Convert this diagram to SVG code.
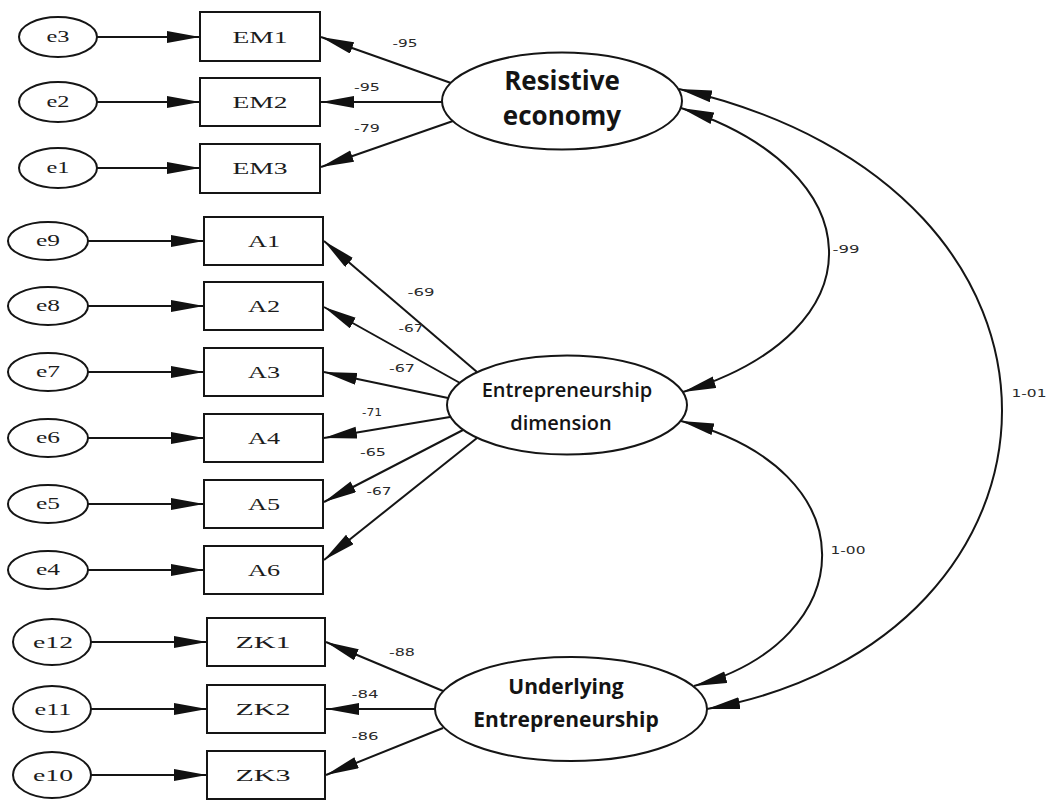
<svg xmlns="http://www.w3.org/2000/svg" width="1048" height="800" viewBox="0 0 1048 800">
  <style>
    .shape { fill: #ffffff; stroke: #151515; stroke-width: 2; }
    .link { fill: none; stroke: #151515; stroke-width: 2; }
    .obs { font-family: "Liberation Serif", "DejaVu Serif", serif; font-size: 16px; fill: #1c1c1c; text-anchor: middle; }
    .err { font-family: "Liberation Serif", "DejaVu Serif", serif; font-size: 16px; fill: #1c1c1c; text-anchor: middle; }
    .lat { font-family: "Open Sans", "Liberation Sans", sans-serif; font-weight: 700; fill: #141414; text-anchor: middle; }
    .semi { font-weight: 600; }
    .coef { font-family: "DejaVu Sans", "Liberation Sans", sans-serif; font-size: 11px; fill: #2a2a2a; text-anchor: middle; }
  </style>
  <defs>
    <marker id="head" markerUnits="userSpaceOnUse" markerWidth="34" markerHeight="13" refX="33" refY="6" orient="auto-start-reverse">
      <path d="M0,0 L33,6 L0,12 Z" fill="#111111"/>
    </marker>
  </defs>

  <rect x="0" y="0" width="1048" height="800" fill="#ffffff"/>

  <!-- connectors -->
  <g id="connectors" class="link" marker-end="url(#head)">
    <!-- error terms to indicators -->
    <line x1="97" y1="37" x2="200" y2="37"/>
    <line x1="97" y1="102" x2="200" y2="102"/>
    <line x1="97" y1="168" x2="200" y2="168"/>
    <line x1="88" y1="241" x2="204" y2="241"/>
    <line x1="88" y1="306" x2="204" y2="306"/>
    <line x1="88" y1="372" x2="204" y2="372"/>
    <line x1="88" y1="438" x2="204" y2="438"/>
    <line x1="88" y1="504" x2="204" y2="504"/>
    <line x1="88" y1="570" x2="204" y2="570"/>
    <line x1="91" y1="642" x2="207" y2="642"/>
    <line x1="91" y1="709" x2="207" y2="709"/>
    <line x1="91" y1="775" x2="207" y2="775"/>
    <!-- loadings: Resistive economy -->
    <line x1="451" y1="83" x2="321" y2="37"/>
    <line x1="442" y1="102" x2="321" y2="102"/>
    <line x1="453" y1="121" x2="321" y2="167"/>
    <!-- loadings: Entrepreneurship dimension -->
    <line x1="477" y1="372" x2="324" y2="241"/>
    <line x1="460" y1="383" x2="324" y2="307"/>
    <line x1="448" y1="398" x2="324" y2="372"/>
    <line x1="450" y1="417" x2="324" y2="438"/>
    <line x1="463" y1="430" x2="324" y2="502"/>
    <line x1="477" y1="438" x2="324" y2="560"/>
    <!-- loadings: Underlying Entrepreneurship -->
    <line x1="443" y1="691" x2="326" y2="642"/>
    <line x1="435" y1="709" x2="326" y2="709"/>
    <line x1="443" y1="728" x2="326" y2="775"/>
    <!-- covariances -->
    <path d="M681,108 C872,170 884,330 683,392" marker-start="url(#head)"/>
    <path d="M681,421 C872,470 862,640 694,686" marker-start="url(#head)"/>
    <path d="M679,89 C1120,190 1090,640 707,709" marker-start="url(#head)"/>
  </g>

  <!-- coefficient labels -->
  <g id="coefficients" class="coef">
    <text x="405" y="47" textLength="25" lengthAdjust="spacingAndGlyphs">-95</text>
    <text x="367" y="91" textLength="26" lengthAdjust="spacingAndGlyphs">-95</text>
    <text x="367" y="132" textLength="26" lengthAdjust="spacingAndGlyphs">-79</text>
    <text x="421" y="296" textLength="27" lengthAdjust="spacingAndGlyphs">-69</text>
    <text x="411" y="332" textLength="25" lengthAdjust="spacingAndGlyphs">-67</text>
    <text x="402" y="372" textLength="26" lengthAdjust="spacingAndGlyphs">-67</text>
    <text x="372" y="416" textLength="20" lengthAdjust="spacingAndGlyphs">-71</text>
    <text x="373" y="456" textLength="26" lengthAdjust="spacingAndGlyphs">-65</text>
    <text x="379" y="495" textLength="25" lengthAdjust="spacingAndGlyphs">-67</text>
    <text x="402" y="656" textLength="26" lengthAdjust="spacingAndGlyphs">-88</text>
    <text x="365" y="698" textLength="27" lengthAdjust="spacingAndGlyphs">-84</text>
    <text x="365" y="740" textLength="27" lengthAdjust="spacingAndGlyphs">-86</text>
    <text x="846" y="253" textLength="27" lengthAdjust="spacingAndGlyphs">-99</text>
    <text x="848" y="554" textLength="35" lengthAdjust="spacingAndGlyphs">1-00</text>
    <text x="1029" y="397" textLength="35" lengthAdjust="spacingAndGlyphs">1-01</text>
  </g>

  <!-- error terms -->
  <g id="e3"><ellipse class="shape" cx="58" cy="37" rx="39" ry="20"/><text class="err" x="58" y="42" textLength="23" lengthAdjust="spacingAndGlyphs">e3</text></g>
  <g id="e2"><ellipse class="shape" cx="58" cy="102" rx="39" ry="20"/><text class="err" x="58" y="107" textLength="23" lengthAdjust="spacingAndGlyphs">e2</text></g>
  <g id="e1"><ellipse class="shape" cx="58" cy="168" rx="39" ry="20"/><text class="err" x="58" y="173" textLength="23" lengthAdjust="spacingAndGlyphs">e1</text></g>
  <g id="e9"><ellipse class="shape" cx="48" cy="241" rx="40" ry="19"/><text class="err" x="48" y="246" textLength="24" lengthAdjust="spacingAndGlyphs">e9</text></g>
  <g id="e8"><ellipse class="shape" cx="48" cy="306" rx="40" ry="19"/><text class="err" x="48" y="311" textLength="24" lengthAdjust="spacingAndGlyphs">e8</text></g>
  <g id="e7"><ellipse class="shape" cx="48" cy="372" rx="40" ry="19"/><text class="err" x="48" y="377" textLength="24" lengthAdjust="spacingAndGlyphs">e7</text></g>
  <g id="e6"><ellipse class="shape" cx="48" cy="438" rx="40" ry="19"/><text class="err" x="48" y="443" textLength="24" lengthAdjust="spacingAndGlyphs">e6</text></g>
  <g id="e5"><ellipse class="shape" cx="48" cy="504" rx="40" ry="19"/><text class="err" x="48" y="509" textLength="24" lengthAdjust="spacingAndGlyphs">e5</text></g>
  <g id="e4"><ellipse class="shape" cx="48" cy="570" rx="40" ry="19"/><text class="err" x="48" y="575" textLength="24" lengthAdjust="spacingAndGlyphs">e4</text></g>
  <g id="e12"><ellipse class="shape" cx="52" cy="642" rx="39" ry="23"/><text class="err" x="53" y="648" textLength="40" lengthAdjust="spacingAndGlyphs">e12</text></g>
  <g id="e11"><ellipse class="shape" cx="52" cy="709" rx="39" ry="23"/><text class="err" x="53" y="715" textLength="37" lengthAdjust="spacingAndGlyphs">e11</text></g>
  <g id="e10"><ellipse class="shape" cx="52" cy="775" rx="39" ry="23"/><text class="err" x="53" y="781" textLength="40" lengthAdjust="spacingAndGlyphs">e10</text></g>

  <!-- observed indicators -->
  <g id="EM1"><rect class="shape" x="200" y="12" width="120" height="49"/><text class="obs" x="260" y="43" textLength="55" lengthAdjust="spacingAndGlyphs">EM1</text></g>
  <g id="EM2"><rect class="shape" x="200" y="78" width="120" height="48"/><text class="obs" x="260" y="108" textLength="55" lengthAdjust="spacingAndGlyphs">EM2</text></g>
  <g id="EM3"><rect class="shape" x="200" y="144" width="120" height="49"/><text class="obs" x="260" y="174" textLength="55" lengthAdjust="spacingAndGlyphs">EM3</text></g>
  <g id="A1"><rect class="shape" x="204" y="217" width="119" height="48"/><text class="obs" x="264" y="247" textLength="32" lengthAdjust="spacingAndGlyphs">A1</text></g>
  <g id="A2"><rect class="shape" x="204" y="282" width="119" height="48"/><text class="obs" x="264" y="312" textLength="32" lengthAdjust="spacingAndGlyphs">A2</text></g>
  <g id="A3"><rect class="shape" x="204" y="348" width="119" height="48"/><text class="obs" x="264" y="378" textLength="32" lengthAdjust="spacingAndGlyphs">A3</text></g>
  <g id="A4"><rect class="shape" x="204" y="414" width="119" height="48"/><text class="obs" x="264" y="444" textLength="32" lengthAdjust="spacingAndGlyphs">A4</text></g>
  <g id="A5"><rect class="shape" x="204" y="480" width="119" height="48"/><text class="obs" x="264" y="510" textLength="32" lengthAdjust="spacingAndGlyphs">A5</text></g>
  <g id="A6"><rect class="shape" x="204" y="546" width="119" height="48"/><text class="obs" x="264" y="576" textLength="32" lengthAdjust="spacingAndGlyphs">A6</text></g>
  <g id="ZK1"><rect class="shape" x="207" y="618" width="118" height="48"/><text class="obs" x="263" y="648" textLength="55" lengthAdjust="spacingAndGlyphs">ZK1</text></g>
  <g id="ZK2"><rect class="shape" x="207" y="685" width="118" height="48"/><text class="obs" x="263" y="715" textLength="55" lengthAdjust="spacingAndGlyphs">ZK2</text></g>
  <g id="ZK3"><rect class="shape" x="207" y="751" width="118" height="48"/><text class="obs" x="263" y="781" textLength="55" lengthAdjust="spacingAndGlyphs">ZK3</text></g>

  <!-- latent factors -->
  <g id="ResistiveEconomy">
    <ellipse class="shape" cx="562" cy="101" rx="120" ry="48.5"/>
    <text class="lat" x="562" y="90" font-size="26">Resistive</text>
    <text class="lat" x="562" y="125" font-size="26">economy</text>
  </g>
  <g id="EntrepreneurshipDimension">
    <ellipse class="shape" cx="567" cy="405" rx="120" ry="49.5"/>
    <text class="lat semi" x="567" y="397" font-size="20">Entrepreneurship</text>
    <text class="lat semi" x="561" y="430" font-size="20">dimension</text>
  </g>
  <g id="UnderlyingEntrepreneurship">
    <ellipse class="shape" cx="571" cy="709" rx="136" ry="52"/>
    <text class="lat" x="566" y="694" font-size="21">Underlying</text>
    <text class="lat" x="566" y="727" font-size="21">Entrepreneurship</text>
  </g>
</svg>
